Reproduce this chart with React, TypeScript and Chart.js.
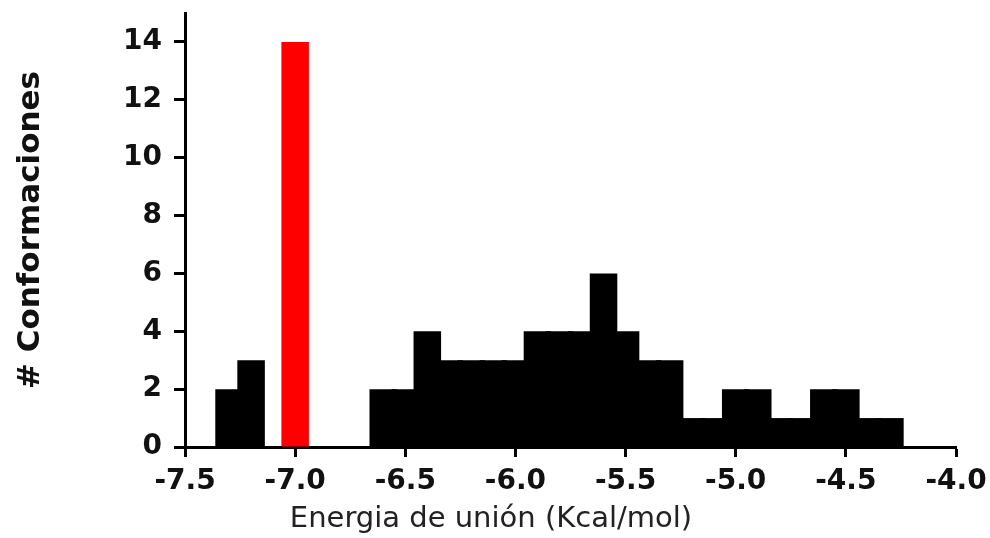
import React, { useEffect, useRef } from "react";
import { Chart, registerables } from "chart.js";

Chart.register(...registerables);

// Histogram bins: centre of each 0.1 kcal/mol bin and how many conformations fall in it
const binCenters = [
  -7.3, -7.2, -7.1, -7.0, -6.9, -6.8, -6.7, -6.6, -6.5, -6.4, -6.3,
  -6.2, -6.1, -6.0, -5.9, -5.8, -5.7, -5.6, -5.5, -5.4, -5.3, -5.2,
  -5.1, -5.0, -4.9, -4.8, -4.7, -4.6, -4.5, -4.4, -4.3,
];
const counts = [
  2, 3, 0, 14, 0, 0, 0, 2, 2, 4, 3,
  3, 3, 3, 4, 4, 4, 6, 4, 3, 3, 1,
  1, 2, 2, 1, 1, 2, 2, 1, 1,
];
// The best-scoring cluster is drawn in red
const highlightBin = -7.0;

const xTitle = "Energia de unión (Kcal/mol)";
const yTitle = "# Conformaciones";
const xMin = -7.5;
const xMax = -4.0;
const xStep = 0.5;
const yMin = 0;
const yMax = 15;
const yStep = 2;

const tickFont = { family: "'DejaVu Sans'", size: 28, weight: "bold" as const };

export default function App() {
  const canvasRef = useRef<HTMLCanvasElement | null>(null);

  useEffect(() => {
    const canvas = canvasRef.current;
    if (!canvas) return;

    const points = binCenters.map((x, i) => ({ x, y: counts[i] }));
    const colors = binCenters.map((x) =>
      Math.abs(x - highlightBin) < 1e-9 ? "#ff0000" : "#000000"
    );

    const chart = new Chart(canvas, {
      type: "bar",
      data: {
        datasets: [
          {
            data: points,
            backgroundColor: colors,
            borderWidth: 0,
            barPercentage: 1.25,
            categoryPercentage: 1,
          },
        ],
      },
      options: {
        animation: false,
        responsive: true,
        maintainAspectRatio: false,
        layout: { padding: { top: 13, right: 8, left: 0, bottom: 0 } },
        plugins: {
          legend: { display: false },
          tooltip: { enabled: false },
          // x-axis caption, centred on the whole figure
          title: {
            display: true,
            position: "bottom",
            text: xTitle,
            color: "#222",
            font: { family: "'DejaVu Sans'", size: 29, weight: "normal" },
            padding: { top: 0, bottom: 1 },
          },
        },
        scales: {
          x: {
            type: "linear",
            min: xMin,
            max: xMax,
            offset: false,
            z: 1,
            grid: {
              offset: false,
              drawOnChartArea: false,
              drawTicks: true,
              tickLength: 10,
              tickWidth: 3,
              tickColor: "#000",
            },
            border: { display: true, width: 3, color: "#000" },
            ticks: {
              stepSize: xStep,
              padding: 8,
              color: "#111",
              font: tickFont,
              maxRotation: 0,
              autoSkip: false,
              callback: (v: any) => Number(v).toFixed(1),
            },
            afterFit: (scale: any) => {
              scale.height = 55.2;
              scale.paddingLeft = 0;
              scale.paddingRight = 34;
            },
          },
          y: {
            type: "linear",
            min: yMin,
            max: yMax,
            z: 1,
            grid: {
              drawOnChartArea: false,
              drawTicks: true,
              tickLength: 11,
              tickWidth: 3,
              tickColor: "#000",
            },
            border: { display: true, width: 3, color: "#000" },
            ticks: {
              stepSize: yStep,
              includeBounds: false,
              padding: 12,
              color: "#111",
              font: tickFont,
            },
            title: {
              display: true,
              text: yTitle,
              color: "#111",
              font: { family: "'DejaVu Sans'", size: 31, weight: "bold" },
              padding: { top: 12, bottom: 0 },
            },
            afterFit: (scale: any) => {
              scale.width = 185;
              scale.paddingTop = 0;
              scale.paddingBottom = 0;
            },
          },
        },
      },
    });

    return () => chart.destroy();
  }, []);

  return (
    <div
      style={{
        position: "fixed",
        left: 0,
        top: 0,
        width: 990,
        height: 538,
        background: "#fff",
      }}
    >
      <canvas ref={canvasRef} />
    </div>
  );
}
